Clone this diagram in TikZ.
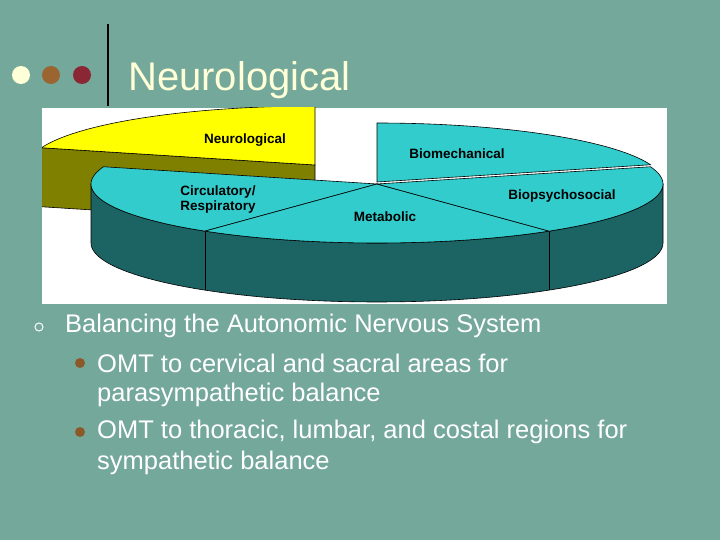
\documentclass[tikz,border=0pt]{standalone}
\usepackage{fontspec}
\setmainfont{Liberation Sans}
\definecolor{bg}{HTML}{74A89A}
\definecolor{cream}{HTML}{FFFFD8}
\definecolor{dotbrown}{HTML}{9A6530}
\definecolor{dotred}{HTML}{8B2635}
\definecolor{topteal}{HTML}{33CCCC}
\definecolor{sideteal}{HTML}{1C6464}
\definecolor{neuroyel}{HTML}{FFFF00}
\definecolor{neuroside}{HTML}{808000}
\definecolor{bul}{HTML}{8B5A2B}
\tikzset{
  slice/.style={fill=topteal,draw=black,line width=0.6pt},
  side/.style={fill=sideteal,draw=black,line width=0.6pt},
  lab/.style={font=\bfseries\fontsize{13.5}{15}\selectfont,align=left,inner sep=0pt},
  body/.style={font=\fontsize{25.5}{28}\selectfont,text=white,anchor=west,inner sep=0pt},
}
\begin{document}
\begin{tikzpicture}[x=1pt,y=-1pt]
\fill[bg] (0,0) rectangle (720,540);
\useasboundingbox (0,0) rectangle (720,540);
% header
\fill[cream] (21,75) circle (9);
\fill[dotbrown] (51,75) circle (9);
\fill[dotred] (82,75) circle (9);
\draw[line width=2.5pt] (108,24) -- (108,106);
\node[font=\fontsize{40}{44}\selectfont,text=cream,anchor=west,inner sep=0pt] (title) at (128,80) {Neurological};
% chart background
\fill[white] (42,108) rectangle (667,304);
% neuro slice (exploded)
\begin{scope}
\clip (42,108) rectangle (667,304);
\begin{scope}[shift={(-62,-19)}]
\fill[neuroside,draw=black,line width=0.6pt] plot[domain=163:180,samples=10] ({377+286*cos(\x)},{184-59*sin(\x)}) -- ({377-286},{243}) -- plot[domain=180:163,samples=10] ({377+286*cos(\x)},{243-59*sin(\x)}) -- cycle;
\fill[neuroside,draw=black,line width=0.6pt] ({377+286*cos(163)},{184-59*sin(163)}) -- (377,184) -- (377,243) -- ({377+286*cos(163)},{243-59*sin(163)}) -- cycle;
\fill[neuroyel,draw=black,line width=0.6pt] (377,184) -- plot[domain=90:163,samples=40] ({377+286*cos(\x)},{184-59*sin(\x)}) -- cycle;
\end{scope}
\end{scope}
% main pie side
\fill[side] plot[domain=180:360,samples=80] ({377+286*cos(\x)},{184-59*sin(\x)}) -- plot[domain=360:180,samples=80] ({377+286*cos(\x)},{243-59*sin(\x)}) -- cycle;
\draw[line width=0.6pt] ({377+286*cos(233)},{184-59*sin(233)}) -- ++(0,59);
\draw[line width=0.6pt] ({377+286*cos(307)},{184-59*sin(307)}) -- ++(0,59);
% top slices
\filldraw[slice] (377,184) -- plot[domain=163:233,samples=40] ({377+286*cos(\x)},{184-59*sin(\x)}) -- cycle;
\filldraw[slice] (377,184) -- plot[domain=233:307,samples=40] ({377+286*cos(\x)},{184-59*sin(\x)}) -- cycle;
\filldraw[slice] (377,184) -- plot[domain=307:377,samples=40] ({377+286*cos(\x)},{184-59*sin(\x)}) -- cycle;
\begin{scope}[shift={(0,-2)}]
\filldraw[slice] (377,184) -- plot[domain=17:90,samples=40] ({377+286*cos(\x)},{184-59*sin(\x)}) -- cycle;
\end{scope}
% labels
\node[lab] (ln) at (245,140) {Neurological};
\node[lab] (lb) at (457,154) {Biomechanical};
\node[lab] (lc) at (218,200) {Circulatory/\\Respiratory};
\node[lab] (lp) at (562,196) {Biopsychosocial};
\node[lab] (lm) at (385,217) {Metabolic};
% bullets
\draw[white,line width=1pt] (39,327) circle (4);
\fill[bul] (80,363) circle (5);
\fill[bul] (80,432) circle (5);
\node[body] (t1) at (65,326) {Balancing the Autonomic Nervous System};
\node[body] (t2) at (97,363) {OMT to cervical and sacral areas for};
\node[body] (t3) at (97,395) {parasympathetic balance};
\node[body] (t4) at (97,432) {OMT to thoracic, lumbar, and costal regions for};
\node[body] (t5) at (97,463) {sympathetic balance};
\end{tikzpicture}
\end{document}
